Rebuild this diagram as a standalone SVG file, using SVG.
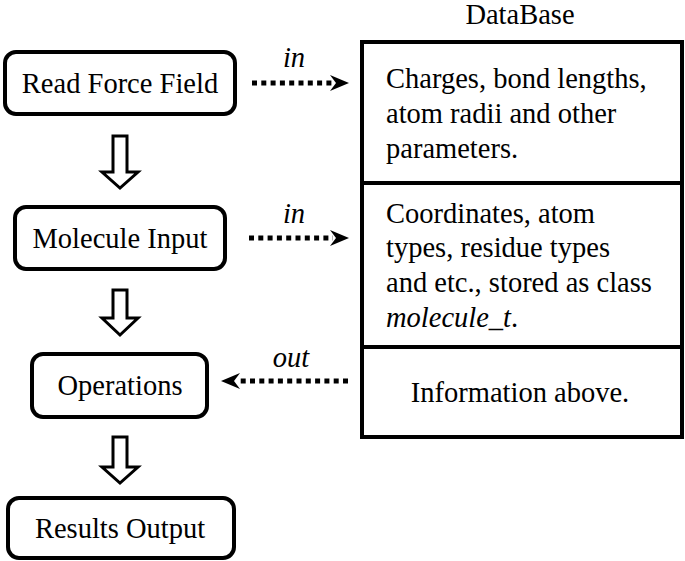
<svg xmlns="http://www.w3.org/2000/svg" width="685" height="561" viewBox="0 0 685 561">
<defs>
<style>
.t{font-family:"Times New Roman","Liberation Serif",serif;font-size:28.5px;fill:#000}
.c{text-anchor:middle}
.i{font-style:italic}
.box{fill:#fff;stroke:#000;stroke-width:4}
.blk{fill:#fff;stroke:#000;stroke-width:3;stroke-linejoin:miter}
.dot{fill:none;stroke:#000;stroke-width:5;stroke-dasharray:5 4.3}
.tbl{fill:none;stroke:#000;stroke-width:4}
.hd{fill:#000}
</style>
</defs>
<rect width="685" height="561" fill="#fff"/>
<g id="read-force-field">
<rect class="box" x="5" y="52" width="230" height="62" rx="11"/>
<text class="t c" x="120" y="93">Read Force Field</text>
</g>
<g id="molecule-input">
<rect class="box" x="15" y="207" width="210" height="62" rx="11"/>
<text class="t c" x="120" y="248">Molecule Input</text>
</g>
<g id="operations">
<rect class="box" x="32" y="354" width="175" height="63" rx="11"/>
<text class="t c" x="120" y="395">Operations</text>
</g>
<g id="results-output">
<rect class="box" x="8" y="498" width="226" height="60" rx="11"/>
<text class="t c" x="120" y="538">Results Output</text>
</g>
<g id="database">
<text class="t c" x="520" y="24">DataBase</text>
<rect class="tbl" x="362" y="42" width="320" height="395"/>
<line class="tbl" x1="362" y1="183" x2="682" y2="183"/>
<line class="tbl" x1="362" y1="347" x2="682" y2="347"/>
<text class="t" x="386" y="88">Charges, bond lengths,</text>
<text class="t" x="386" y="123">atom radii and other</text>
<text class="t" x="386" y="158">parameters.</text>
<text class="t" x="386" y="223">Coordinates, atom</text>
<text class="t" x="386" y="257">types, residue types</text>
<text class="t" x="386" y="292">and etc., stored as class</text>
<text class="t" x="386" y="327"><tspan class="i">molecule_t</tspan>.</text>
<text class="t c" x="520" y="402">Information above.</text>
</g>
<g id="connectors">
<path class="blk" d="M113,136 H127 V172 H138 L120,188 L102,172 H113 Z"/>
<path class="blk" d="M113,290 H127 V318 H138 L120,335 L102,318 H113 Z"/>
<path class="blk" d="M113,437 H127 V467 H138 L120,483 L102,467 H113 Z"/>
<line class="dot" x1="252" y1="83" x2="333" y2="83"/>
<path class="hd" d="M349,83 L330,75 L336,83 L330,91 Z"/>
<text class="t c i" x="294" y="67">in</text>
<line class="dot" x1="249" y1="238" x2="333" y2="238"/>
<path class="hd" d="M349,238 L330,230 L336,238 L330,246 Z"/>
<text class="t c i" x="294" y="223">in</text>
<line class="dot" x1="348" y1="381" x2="238" y2="381"/>
<path class="hd" d="M221,381 L240,373 L234,381 L240,389 Z"/>
<text class="t c i" x="291" y="367">out</text>
</g>
</svg>
